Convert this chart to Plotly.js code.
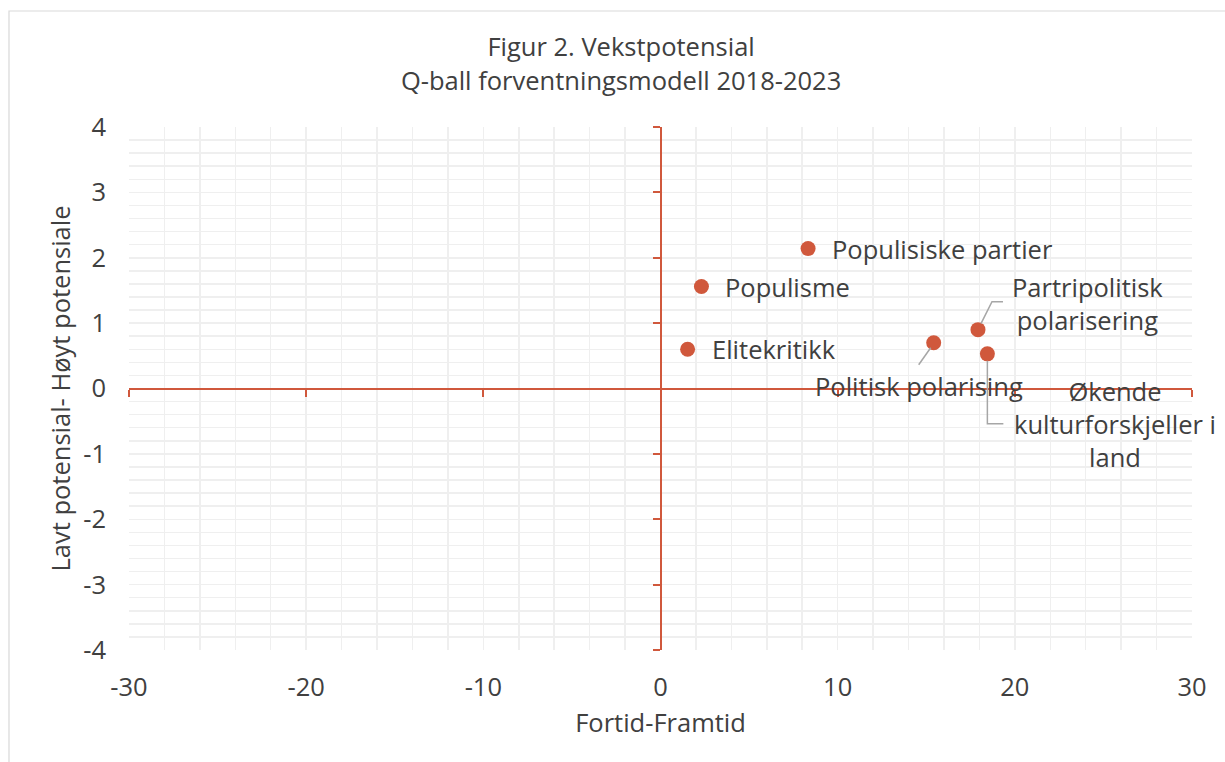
<!DOCTYPE html>
<html>
<head>
<meta charset="utf-8">
<script src="https://cdn.plot.ly/plotly-3.0.1.min.js"></script>
<style>html,body{margin:0;padding:0;background:#fff;}#chart{width:1225px;height:762px;}</style>
</head>
<body>
<div id="chart"></div>
<script>
// ---- data ----
const labels = ["Populisiske partier", "Populisme", "Elitekritikk", "Politisk polarising", "Partripolitisk<br>polarisering", "Økende<br>kulturforskjeller i<br>land"];
const xValues = [8.33, 2.31, 1.53, 15.42, 17.92, 18.45];
const yValues = [2.14, 1.56, 0.60, 0.70, 0.90, 0.53];
const xTickVals = [-30, -20, -10, 0, 10, 20, 30];
const xTickText = ["-30", "-20", "-10", "0", "10", "20", "30"];
const yTickVals = [-4, -3, -2, -1, 0, 1, 2, 3, 4];
const yTickText = ["-4", "-3", "-2", "-1", "0", "1", "2", "3", "4"];

// ---- styles ----
const FONT = "Open Sans, sans-serif";
const FS = 25.5;
const TXT = "#404040";
const RED = "#D0583C";
const GRID = "#EFEFEF";
const LEADER = "#A6A6A6";

// label placement (pixel offsets from point) & leader paths (pixel offsets)
const labelStyle = [
  {xshift: 22, yshift: 0, xanchor: "left"},
  {xshift: 22, yshift: 0, xanchor: "left"},
  {xshift: 22, yshift: 0, xanchor: "left"},
  {xshift: -15, yshift: -43, xanchor: "center"},
  {xshift: 110, yshift: 26, xanchor: "center"},
  {xshift: 128, yshift: -70, xanchor: "center"}
];
const leaderPaths = [null, null, null,
  "M -3 -5 L -15 -22",
  "M 3 6 L 14 28 L 25 28",
  "M 0 -7 L 0 -70 L 16 -70"
];

const traces = [
  {
    x: xValues, y: yValues, type: "scatter", mode: "markers",
    marker: {color: RED, size: 15}, xaxis: "x", yaxis: "y",
    hoverinfo: "skip", showlegend: false
  },
  {
    x: xValues, y: yValues, type: "scatter", mode: "markers",
    marker: {color: RED, size: 15, opacity: 0}, xaxis: "x2", yaxis: "y2",
    hoverinfo: "skip", showlegend: false
  }
];

const annotations = labels.map((t, i) => ({
  x: xValues[i], y: yValues[i], xref: "x", yref: "y",
  text: t, showarrow: false,
  xshift: labelStyle[i].xshift, yshift: labelStyle[i].yshift,
  xanchor: labelStyle[i].xanchor, yanchor: "middle", align: "center",
  font: {family: FONT, size: FS, color: TXT}
}));

const shapes = [];
leaderPaths.forEach((p, i) => {
  if (!p) return;
  shapes.push({
    type: "path", xref: "x", yref: "y",
    xsizemode: "pixel", ysizemode: "pixel",
    xanchor: xValues[i], yanchor: yValues[i],
    path: p, line: {color: LEADER, width: 1.5}, layer: "above"
  });
});
// chart-area border
shapes.push({
  type: "rect", xref: "paper", yref: "paper",
  x0: -0.1129, x1: 1.3, y0: -0.4, y1: 1.2218,
  line: {color: "#D9D9D9", width: 1.2}, fillcolor: "rgba(0,0,0,0)", layer: "below"
});

const layout = {
  width: 1225, height: 762,
  margin: {l: 129, r: 33, t: 127, b: 112},
  paper_bgcolor: "#fff", plot_bgcolor: "#fff",
  font: {family: FONT, color: TXT, size: FS},
  showlegend: false,
  title: {
    text: "Figur 2. Vekstpotensial<br>Q-ball forventningsmodell 2018-2023",
    xref: "container", x: 0.507, xanchor: "center",
    yref: "container", y: 0.926, yanchor: "middle",
    font: {family: FONT, size: FS, color: TXT}
  },
  xaxis: {
    range: [-30, 30], tickvals: xTickVals, ticktext: xTickText, ticks: "",
    showgrid: true, gridcolor: GRID, gridwidth: 1.5,
    minor: {dtick: 2, showgrid: true, gridcolor: GRID, gridwidth: 1.5},
    zeroline: false, showline: false,
    ticklabelstandoff: 19,
    tickfont: {family: FONT, size: FS, color: TXT},
    title: {text: "Fortid-Framtid", standoff: 12, font: {family: FONT, size: FS, color: TXT}},
    fixedrange: true
  },
  yaxis: {
    range: [-4, 4], tickvals: yTickVals, ticktext: yTickText, ticks: "",
    showgrid: true, gridcolor: GRID, gridwidth: 1.5,
    minor: {dtick: 0.2, showgrid: true, gridcolor: GRID, gridwidth: 1.5},
    zeroline: false, showline: false,
    ticklabelstandoff: 22,
    tickfont: {family: FONT, size: FS, color: TXT},
    title: {text: "Lavt potensial- Høyt potensiale", standoff: 5, font: {family: FONT, size: FS, color: TXT}},
    fixedrange: true
  },
  xaxis2: {
    overlaying: "x", anchor: "free", position: 0.5, side: "bottom",
    range: [-30, 30], tickvals: xTickVals, showticklabels: false,
    ticks: "outside", ticklen: 7, tickwidth: 2, tickcolor: RED,
    showline: true, linecolor: RED, linewidth: 2,
    showgrid: false, zeroline: false, fixedrange: true
  },
  yaxis2: {
    overlaying: "y", anchor: "free", position: 0.5, side: "left",
    range: [-4, 4], tickvals: yTickVals, showticklabels: false,
    ticks: "outside", ticklen: 7, tickwidth: 2, tickcolor: RED,
    showline: true, linecolor: RED, linewidth: 2,
    showgrid: false, zeroline: false, fixedrange: true
  },
  annotations: annotations,
  shapes: shapes
};

Plotly.newPlot("chart", traces, layout, {displayModeBar: false, staticPlot: true});
</script>
</body>
</html>
